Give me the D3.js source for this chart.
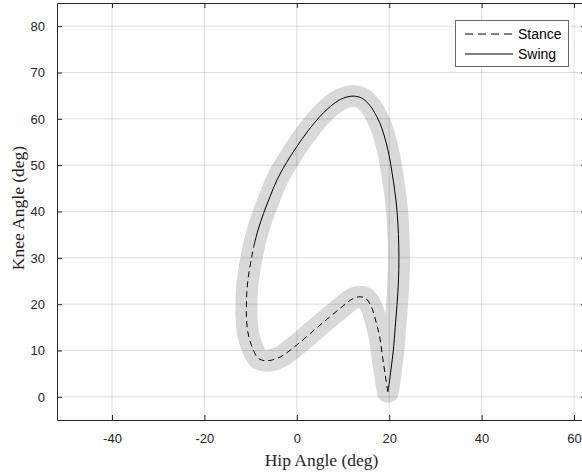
<!DOCTYPE html>
<html><head><meta charset="utf-8">
<script src="https://cdn.jsdelivr.net/npm/d3@7"></script>
<style>body{margin:0;background:#fff}svg{display:block}</style>
</head><body>
<svg id="chart" width="582" height="475"></svg>
<script>
// Data (degrees)
const stanceHip  = [19.7, 19.1, 18.5, 18.0, 17.2, 16.2, 15.0, 13.7, 12.0, 10.0, 7.2, 4.0, 0.0, -3.6, -6.5, -8.3, -9.7, -10.6, -10.9, -10.9, -10.8, -10.4, -9.8, -9.3];
const stanceKnee = [1.1, 5.0, 9.0, 12.6, 16.0, 19.3, 21.2, 21.6, 21.1, 19.6, 17.3, 14.6, 11.2, 8.6, 7.8, 8.3, 10.8, 14.0, 17.3, 20.0, 23.0, 26.5, 30.0, 32.5];
const swingHip   = [-9.3, -8.4, -7.2, -5.8, -4.3, -2.2, 0.0, 2.5, 5.0, 7.3, 9.5, 11.9, 14.0, 15.8, 17.3, 18.4, 19.3, 20.0, 20.6, 21.2, 21.7, 22.0, 22.1, 22.0, 21.7, 21.3, 20.9, 20.4, 20.0, 19.7];
const swingKnee  = [32.5, 36.0, 39.6, 43.2, 46.8, 50.6, 54.0, 57.5, 60.5, 62.7, 64.2, 64.9, 64.5, 62.9, 60.5, 58.0, 55.0, 52.0, 48.5, 44.5, 40.0, 35.0, 30.0, 25.0, 20.0, 15.0, 10.1, 6.0, 2.9, 1.1];
const xTicks = [-40, -20, 0, 20, 40, 60];
const yTicks = [0, 10, 20, 30, 40, 50, 60, 70, 80];
const legendLabels = ["Stance", "Swing"];

const svg = d3.select("#chart");
const L = 57, R = 586, T = 3, B = 420;
const x = d3.scaleLinear().domain([-40, 60]).range([112, 574]);
x.domain([x.invert(L), x.invert(R)]).range([L, R]);
const y = d3.scaleLinear().domain([-5, 85]).range([B, T]);

const axisColor = "#262626";
const tickFont = "'Liberation Sans', Arial, sans-serif";
const fmt = d => String(d);

svg.append("defs").append("clipPath").attr("id", "clip")
  .append("rect").attr("x", L).attr("y", T).attr("width", R - L).attr("height", B - T);

const plot = svg.append("g").attr("clip-path", "url(#clip)");

// band (gray thick loop)
const loop = stanceHip.map((h, i) => [h, stanceKnee[i]])
  .concat(swingHip.slice(1).map((h, i) => [h, swingKnee[i + 1]]));
const line = d3.line().x(d => x(d[0])).y(d => y(d[1])).curve(d3.curveCatmullRom.alpha(0.5));
plot.append("path").attr("d", line(loop))
  .attr("fill", "none").attr("stroke", "#d9d9d9").attr("stroke-width", 22)
  .attr("stroke-linejoin", "round").attr("stroke-linecap", "round");

// grid
const grid = svg.append("g").attr("clip-path", "url(#clip)");
xTicks.forEach(t => grid.append("line").attr("x1", x(t)).attr("x2", x(t)).attr("y1", T).attr("y2", B)
  .attr("stroke", axisColor).attr("stroke-opacity", 0.15).attr("stroke-width", 1));
yTicks.forEach(t => grid.append("line").attr("x1", L).attr("x2", R).attr("y1", y(t)).attr("y2", y(t))
  .attr("stroke", axisColor).attr("stroke-opacity", 0.15).attr("stroke-width", 1));

// mean lines
const stancePts = stanceHip.map((h, i) => [h, stanceKnee[i]]);
const swingPts = swingHip.map((h, i) => [h, swingKnee[i]]);
plot.append("path").attr("d", line(stancePts)).attr("fill", "none")
  .attr("stroke", "#000").attr("stroke-width", 1).attr("stroke-dasharray", "6,4");
plot.append("path").attr("d", line(swingPts)).attr("fill", "none")
  .attr("stroke", "#000").attr("stroke-width", 1);

// axes
const xAxisB = d3.axisBottom(x).tickValues(xTicks).tickSizeInner(-5).tickSizeOuter(0).tickPadding(14).tickFormat(fmt);
const gx = svg.append("g").attr("transform", `translate(0,${B})`).call(xAxisB);
const xAxisT = d3.axisTop(x).tickValues(xTicks).tickSizeInner(-5).tickSizeOuter(0).tickFormat("");
const gxt = svg.append("g").attr("transform", `translate(0,${T})`).call(xAxisT);
const yAxisL = d3.axisLeft(y).tickValues(yTicks).tickSizeInner(-5).tickSizeOuter(0).tickPadding(12).tickFormat(fmt);
const gy = svg.append("g").attr("transform", `translate(${L},0)`).call(yAxisL);
const yAxisR = d3.axisRight(y).tickValues(yTicks).tickSizeInner(-5).tickSizeOuter(0).tickFormat("");
const gyr = svg.append("g").attr("transform", `translate(${R},0)`).call(yAxisR);
[gx, gxt, gy, gyr].forEach(g => {
  g.select(".domain").attr("stroke", axisColor).attr("stroke-width", 1);
  g.selectAll(".tick line").attr("stroke", axisColor);
  g.selectAll(".tick text").attr("fill", axisColor).style("font-family", tickFont).style("font-size", "13px");
});

// axis labels
svg.append("text").attr("x", 321.5).attr("y", 466).attr("text-anchor", "middle")
  .style("font-family", "'Liberation Serif', 'Times New Roman', serif").style("font-size", "17.5px")
  .attr("fill", axisColor).text("Hip Angle (deg)");
svg.append("text").attr("transform", "translate(24,208) rotate(-90)").attr("text-anchor", "middle")
  .style("font-family", "'Liberation Serif', 'Times New Roman', serif").style("font-size", "17.5px")
  .attr("fill", axisColor).text("Knee Angle (deg)");

// legend
const lg = svg.append("g");
lg.append("rect").attr("x", 455.5).attr("y", 20.5).attr("width", 113).attr("height", 46)
  .attr("fill", "#fff").attr("stroke", "#262626").attr("stroke-opacity", 0.7).attr("stroke-width", 1);
legendLabels.forEach((lab, i) => {
  const yy = 34 + i * 20;
  lg.append("line").attr("x1", 465).attr("x2", 513).attr("y1", yy).attr("y2", yy)
    .attr("stroke", "#000").attr("stroke-width", 1).attr("stroke-dasharray", i === 0 ? "8,5" : null);
  lg.append("text").attr("x", 518).attr("y", yy).attr("dy", "0.35em")
    .style("font-family", tickFont).style("font-size", "14px").attr("fill", "#000").text(lab);
});
</script>
</body></html>
